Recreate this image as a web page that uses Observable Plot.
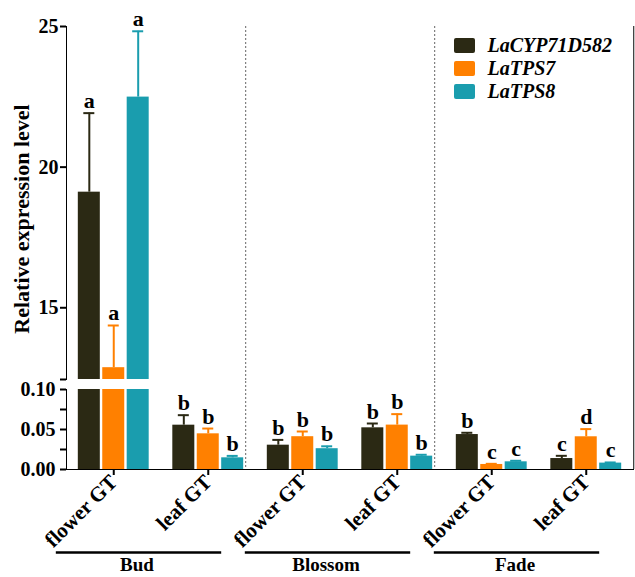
<!DOCTYPE html>
<html>
<head>
<meta charset="utf-8">
<script src="https://cdn.jsdelivr.net/npm/d3@7"></script>
<script src="https://cdn.jsdelivr.net/npm/@observablehq/plot@0.6"></script>
<style>
html, body { margin: 0; padding: 0; background: #fff; overflow: hidden; }
#chart { position: relative; width: 635px; height: 577px; background: #fff; }
#chart .part { position: absolute; left: 0; }
#chart svg { display: block; }
#chart svg g[aria-label*="axis"], #chart svg g[aria-label*="axis"] path, #chart svg g[aria-label*="axis"] line { stroke-width: 2px; }
#bottom svg g[aria-label^="x-axis"] { font-size: 21px; }
</style>
</head>
<body>
<div id="chart">
  <div class="part" id="top" style="top:0px"></div>
  <div class="part" id="bottom" style="top:371px"></div>
  <div class="part" id="legend" style="top:34px;left:454px"></div>
</div>
<script>
// ---------- data ----------
const stages = ["Bud", "Blossom", "Fade"];
const tissues = ["flower GT", "leaf GT"];
const genes = ["LaCYP71D582", "LaTPS7", "LaTPS8"];
const geneColors = ["#2b2914", "#ff8000", "#1a9dae"];

// order: Bud flower, Bud leaf, Blossom flower, Blossom leaf, Fade flower, Fade leaf
const cypMean  = [19.11, 0.0554, 0.0304, 0.0521, 0.0437, 0.0137];
const cypErr   = [2.81, 0.0125, 0.0066, 0.0054, 0.0022, 0.0034];
const cypLetters = ["a", "b", "b", "b", "b", "c"];
const tps7Mean = [12.87, 0.0446, 0.0410, 0.0555, 0.0063, 0.0409];
const tps7Err  = [1.50, 0.0066, 0.0065, 0.0137, 0.0008, 0.0096];
const tps7Letters = ["a", "b", "b", "b", "c", "d"];
const tps8Mean = [22.49, 0.0146, 0.0260, 0.0167, 0.0096, 0.0080];
const tps8Err  = [2.34, 0.0024, 0.0030, 0.0017, 0.0013, 0.0008];
const tps8Letters = ["a", "b", "b", "b", "c", "c"];

const topDomain = [12.45, 25];
const topTicks = [15, 20, 25];
const bottomDomain = [0, 0.1];
const bottomTicks = [0, 0.025, 0.05, 0.075, 0.1];
const bottomLabelled = [0, 0.05, 0.1];
const yTitle = "Relative expression level";

// ---------- build tables ----------
const means = [cypMean, tps7Mean, tps8Mean];
const errs = [cypErr, tps7Err, tps8Err];
const letters = [cypLetters, tps7Letters, tps8Letters];
const keys = stages.flatMap(s => tissues.map(t => s + "|" + t));
const rows = genes.map((g, i) => keys.map((k, j) => ({
  key: k, gene: g, value: means[i][j], top: means[i][j] + errs[i][j], letter: letters[i][j]
})));
const sepKeys = stages.slice(0, -1).map(s => s + "|" + tissues[1]);
const lastKey = [keys[keys.length - 1]];

// ---------- layout ----------
const W = 635, topH = 381, botH = 206, botTop = 18;
const mL = 66, mR = 2;
const pIn = 0.25, pOut = 0.125;
const step = (W - mL - mR) / (keys.length - pIn + 2 * pOut);
const bw = step * (1 - pIn);
const barW = 22;
const barStep = (bw - barW) / 2;
const capW = 11;
const font = "'Liberation Serif', 'Times New Roman', serif";
const baseStyle = {fontFamily: font, fontSize: "20px", fontWeight: "bold", color: "black", background: "white", overflow: "hidden"};
const xBase = {type: "band", domain: keys, paddingInner: pIn, paddingOuter: pOut, round: false};

function geneMarks(filterFn, topPanel) {
  const out = [];
  genes.forEach((g, i) => {
    const c = geneColors[i];
    const all = rows[i];
    const barRows = topPanel ? all.filter(d => d.value > topDomain[0]) : all;
    const errRows = all.filter(filterFn);
    const il = i * barStep, ir = bw - barW - i * barStep;
    const off = (i - 1) * barStep;
    if (topPanel) {
      out.push(Plot.barY(barRows, {x: "key", y1: () => topDomain[0], y2: "value", fill: c, insetLeft: il, insetRight: ir}));
    } else {
      out.push(Plot.barY(barRows, {x: "key", y: "value", fill: c, insetLeft: il, insetRight: ir, clip: true}));
    }
    out.push(Plot.ruleX(errRows, {x: "key", y1: "value", y2: "top", dx: off, stroke: c, strokeWidth: 2}));
    out.push(Plot.tickY(errRows, {x: "key", y: "top", stroke: c, strokeWidth: 2,
      insetLeft: il + barW / 2 - capW / 2, insetRight: ir + barW / 2 - capW / 2}));
    out.push(Plot.text(errRows, {x: "key", y: "top", text: "letter", dx: off, dy: -5, lineAnchor: "bottom",
      fontSize: 22, fontWeight: "bold", fill: "black"}));
  });
  return out;
}

// ---------- top panel ----------
const topPlot = Plot.plot({
  width: W, height: topH,
  marginLeft: mL, marginRight: mR, marginTop: 26, marginBottom: 2,
  style: baseStyle,
  x: {...xBase, axis: null},
  y: {domain: topDomain, ticks: [topDomain[0], ...topTicks], tickFormat: d => topTicks.includes(d) ? String(d) : "",
      tickSize: 6, tickPadding: 2, line: true, label: null},
  marks: [
    ...geneMarks(d => d.value > topDomain[0], true),
    Plot.ruleX(sepKeys, {x: d => d, dx: bw / 2 + 2, stroke: "#666", strokeWidth: 1, strokeDasharray: "2,2", insetBottom: -2}),
    Plot.ruleX(lastKey, {x: d => d, dx: bw / 2 + 12, stroke: "#333", strokeWidth: 1.2, insetBottom: -2}),
    Plot.text([yTitle], {text: d => d, frameAnchor: "left", textAnchor: "middle", rotate: -90, dx: -45, dy: 16,
      fontSize: 22, fontWeight: "bold", fill: "black"})
  ]
});
document.getElementById("top").append(topPlot);

// ---------- bottom panel ----------
const bottomPlot = Plot.plot({
  width: W, height: botH,
  marginLeft: mL, marginRight: mR, marginTop: botTop, marginBottom: 108,
  style: {...baseStyle, background: "transparent"},
  x: {...xBase, tickRotate: -45, tickSize: 6, tickPadding: 3, tickFormat: k => k.split("|")[1], line: true, label: null},
  y: {domain: bottomDomain, ticks: bottomTicks, tickFormat: d => bottomLabelled.includes(d) ? d.toFixed(2) : "",
      tickSize: 6, tickPadding: 5, line: true, label: null},
  marks: [
    ...geneMarks(d => d.top <= bottomDomain[1], false),
    Plot.ruleX(sepKeys, {x: d => d, dx: bw / 2 + 2, stroke: "#666", strokeWidth: 1, strokeDasharray: "2,2", insetTop: -8}),
    Plot.ruleX(lastKey, {x: d => d, dx: bw / 2 + 12, stroke: "#333", strokeWidth: 1.2, insetTop: -8}),
    Plot.ruleY(stages, {x1: s => s + "|" + tissues[0], x2: s => s + "|" + tissues[1], y: () => 0, dy: 83, dx: -22,
      stroke: "black", strokeWidth: 2.5}),
    Plot.text(stages, {x: s => s + "|" + tissues[0], y: () => 0, text: d => d, dx: step / 2 - 24, dy: 95,
      fontSize: 19, fontWeight: "bold", fill: "black"})
  ]
});
document.getElementById("bottom").append(bottomPlot);

// ---------- legend ----------
const legendPlot = Plot.plot({
  width: 178, height: 69, margin: 0,
  style: {...baseStyle, background: "transparent"},
  x: {type: "band", domain: ["swatch"], range: [0, 21], padding: 0, axis: null},
  y: {type: "band", domain: genes, range: [0, 69], padding: 0, axis: null},
  color: {domain: genes, range: geneColors},
  marks: [
    Plot.cell(genes, {x: () => "swatch", y: d => d, fill: d => d, insetTop: 4, insetBottom: 4, rx: 2}),
    Plot.text(genes, {x: () => "swatch", y: d => d, text: d => d, textAnchor: "start", dx: 22.5,
      fontSize: 20, fontWeight: "bold", fontStyle: "italic", fill: "black"})
  ]
});
document.getElementById("legend").append(legendPlot);
</script>
</body>
</html>
